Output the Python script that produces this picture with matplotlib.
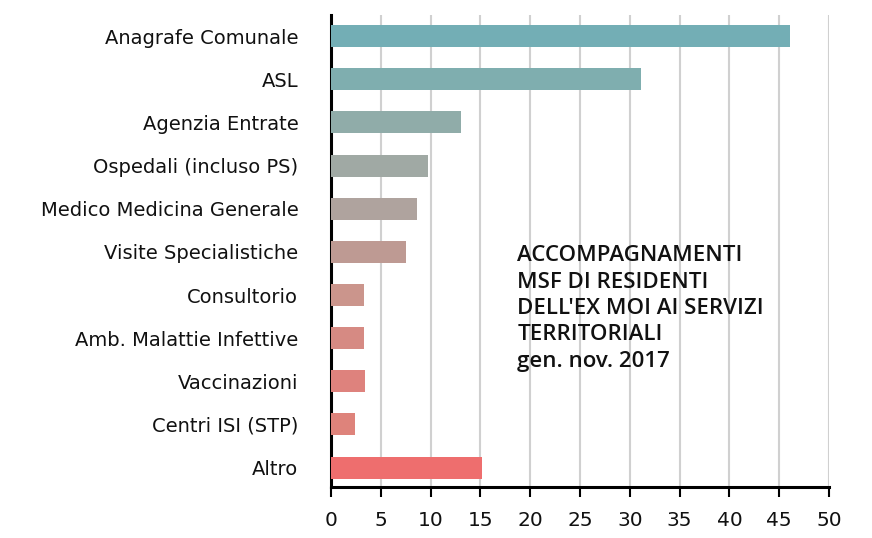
import matplotlib.pyplot as plt

# Data
categories = ["Anagrafe Comunale", "ASL", "Agenzia Entrate", "Ospedali (incluso PS)",
              "Medico Medicina Generale", "Visite Specialistiche", "Consultorio",
              "Amb. Malattie Infettive", "Vaccinazioni", "Centri ISI (STP)", "Altro"]
values = [46.1, 31.1, 13.1, 9.7, 8.6, 7.5, 3.3, 3.3, 3.4, 2.4, 15.2]
bar_colors = ["#73AEB5", "#7FAEAF", "#90ACA9", "#A0A9A4", "#AFA39E", "#BE9A93",
              "#CB958C", "#D68A83", "#DE827D", "#DE837B", "#EE6E6E"]
xticks = list(range(0, 55, 5))

plt.rcParams['font.family'] = ['DejaVu Sans']

fig = plt.figure(figsize=(8.72, 5.38), dpi=100)
ax = fig.add_axes([331 / 872, 1 - 487 / 538, (829 - 331) / 872, (487 - 15) / 538])

ypos = list(range(len(categories)))
ax.barh(ypos, values, height=0.51, color=bar_colors, zorder=3)

ax.set_xlim(0, 50)
ax.set_ylim(10.45, -0.49)
ax.set_xticks(xticks)
ax.set_xticklabels([str(t) for t in xticks], fontsize=14.5, color='#111111')
ax.set_yticks(ypos)
ax.set_yticklabels(categories, fontsize=14, color='#111111')
ax.tick_params(axis='y', length=0, pad=23.5)
ax.tick_params(axis='x', length=7, width=1.5, pad=10)

ax.grid(axis='x', color='#d0d0d0', linewidth=1.5, zorder=0)
for side in ['top', 'right']:
    ax.spines[side].set_visible(False)
ax.spines['left'].set_linewidth(2.2)
ax.spines['bottom'].set_linewidth(2.2)

ax.text(18.7, 4.85, "ACCOMPAGNAMENTI\nMSF DI RESIDENTI\nDELL'EX MOI AI SERVIZI\nTERRITORIALI\ngen. nov. 2017",
        fontsize=16, fontweight='semibold', family=['Open Sans', 'DejaVu Sans'],
        va='top', ha='left', linespacing=1.33, color='#111111', zorder=4)

fig.savefig("out.png", dpi=100)
